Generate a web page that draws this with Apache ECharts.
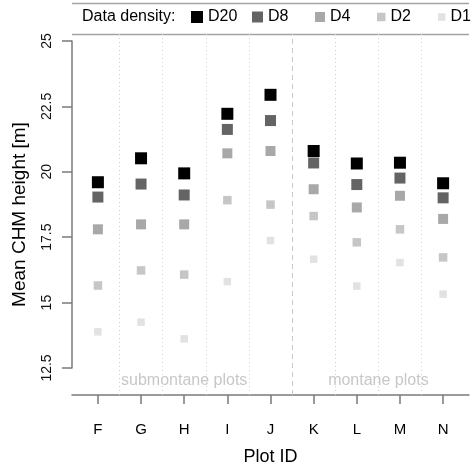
<!DOCTYPE html>
<html><head><meta charset="utf-8">
<script src="https://cdn.jsdelivr.net/npm/echarts@6/dist/echarts.min.js"></script>
<style>html,body{margin:0;padding:0;background:#fff}#c{width:472px;height:471px}</style>
</head><body><div id="c"></div>
<script>
// ---- data ----
const plotIds = ['F','G','H','I','J','K','L','M','N'];
const densities = ['D20','D8','D4','D2','D1'];
const d20 = [19.57,20.49,19.91,22.20,22.93,20.77,20.29,20.32,19.53];
const d8  = [19.00,19.50,19.08,21.60,21.94,20.31,19.48,19.73,18.97];
const d4  = [17.76,17.95,17.95,20.68,20.77,19.30,18.60,19.05,18.16];
const d2  = [15.60,16.18,16.02,18.88,18.71,18.27,17.26,17.76,16.68];
const d1  = [13.82,14.19,13.55,15.75,17.33,16.61,15.58,16.48,15.27];
const yTicks = [12.5,15,17.5,20,22.5,25];
const groupNames = ['submontane plots','montane plots'];
const groupMembers = [['F','G','H','I','J'],['K','L','M','N']];

// ---- styles / layout ----
const FONT = '"Liberation Sans", Arial, Helvetica, sans-serif';
const colors = ['#000000','#646464','#a8a8a8','#c6c6c6','#e2e2e2'];
const sizes = [12,11,10,8.5,7.5];
const legendLeft = [191,252,315,377,438];
const values = [d20,d8,d4,d2,d1];

const axTop = 41, axBottomPx = 368;     // y-axis line extent (px)
const plotTop = 34, plotBottomPx = 397; // plotting region (px)
const pxPerUnit = (axBottomPx - axTop) / (yTicks[yTicks.length-1] - yTicks[0]);
const yMax = yTicks[yTicks.length-1] + (axTop - plotTop) / pxPerUnit;
const yMin = yTicks[0] - (plotBottomPx - axBottomPx) / pxPerUnit;
const xMin = 0.4, xMax = plotIds.length + 0.6;
const labelY = yTicks[0] - (383 - axBottomPx) / pxPerUnit;

const idx = id => plotIds.indexOf(id) + 1;

const sepData = [];
for (let i = 1; i < plotIds.length; i++) {
  const between = groupMembers[0].includes(plotIds[i-1]) && groupMembers[1].includes(plotIds[i]);
  sepData.push({
    xAxis: i + 0.5,
    lineStyle: between ? {type:[5,4], color:'#c8c8c8', width:1} : {type:[1,3], color:'#cfcfcf', width:1}
  });
}

const series = densities.map((d,k) => ({
  name: d, type: 'scatter', xAxisIndex: 0, yAxisIndex: 0,
  symbol: 'rect', symbolSize: sizes[k],
  itemStyle: {color: colors[k], opacity: 1},
  data: values[k].map((v,i) => [i+1, v]),
  silent: true
}));

series.unshift({
  name: 'sep', type: 'scatter', xAxisIndex: 0, yAxisIndex: 0, data: [], silent: true,
  markLine: {silent: true, symbol: 'none', label: {show: false}, data: sepData, animation: false}
});

series.push({
  name: 'groups', type: 'scatter', xAxisIndex: 0, yAxisIndex: 0, silent: true,
  symbolSize: 1, itemStyle: {color: 'rgba(0,0,0,0)'},
  data: groupNames.map((g,k) => {
    const ids = groupMembers[k].map(idx);
    return {name: g, value: [(Math.min(...ids)+Math.max(...ids))/2, labelY]};
  }),
  label: {show: true, position: 'inside', formatter: p => p.name, color: '#b9b9b9', fontSize: 16, fontFamily: FONT}
});

const option = {
  animation: false,
  backgroundColor: '#fff',
  textStyle: {fontFamily: FONT},
  title: {text: 'Data density:', left: 82, top: 9, padding: 0,
    textStyle: {fontSize: 16, fontWeight: 'normal', color: '#000', fontFamily: FONT}},
  legend: densities.map((d,k) => ({
    data: [d], left: legendLeft[k], top: 9, padding: 0,
    itemWidth: sizes[k], itemHeight: sizes[k], icon: 'rect', selectedMode: false,
    textStyle: {fontSize: 16, color: '#000', fontFamily: FONT}
  })),
  graphic: [
    {type: 'line', shape: {x1: 72, y1: 3.5, x2: 469, y2: 3.5}, style: {stroke: '#a3a3a3', lineWidth: 1.5}},
    {type: 'line', shape: {x1: 72, y1: 34.5, x2: 469, y2: 34.5}, style: {stroke: '#a3a3a3', lineWidth: 1.5}}
  ],
  grid: [
    {left: 72, right: 3, top: plotTop, bottom: 471 - plotBottomPx},
    {left: 72, right: 3, top: axTop, bottom: 471 - axBottomPx}
  ],
  xAxis: [
    {type: 'value', gridIndex: 0, min: xMin, max: xMax,
      name: 'Plot ID', nameLocation: 'middle', nameGap: 53,
      nameTextStyle: {fontSize: 18, color: '#000', fontFamily: FONT},
      axisLine: {show: true, lineStyle: {color: '#7a7a7a', width: 1.5}},
      axisTick: {show: true, length: 9, customValues: plotIds.map((_,i)=>i+1), lineStyle: {color: '#7a7a7a', width: 1.5}},
      axisLabel: {show: true, customValues: plotIds.map((_,i)=>i+1), formatter: v => plotIds[Math.round(v)-1] || '',
        margin: 27, fontSize: 15, color: '#000', fontFamily: FONT},
      splitLine: {show: false}},
    {type: 'value', gridIndex: 1, min: xMin, max: xMax, show: false}
  ],
  yAxis: [
    {type: 'value', gridIndex: 0, min: yMin, max: yMax,
      name: 'Mean CHM height [m]', nameLocation: 'middle', nameGap: 43,
      nameTextStyle: {fontSize: 19, color: '#000', fontFamily: FONT},
      axisLine: {show: false}, axisTick: {show: false}, axisLabel: {show: false}, splitLine: {show: false}},
    {type: 'value', gridIndex: 1, min: yTicks[0], max: yTicks[yTicks.length-1], interval: 2.5,
      axisLine: {show: true, lineStyle: {color: '#7a7a7a', width: 1.5}},
      axisTick: {show: true, length: 10, lineStyle: {color: '#7a7a7a', width: 1.5}},
      axisLabel: {show: true, rotate: 90, margin: 18, fontSize: 14, color: '#111', fontFamily: FONT,
        formatter: v => String(v)},
      splitLine: {show: false}}
  ],
  series: series
};

const chart = echarts.init(document.getElementById('c'), null, {renderer: 'canvas'});
chart.setOption(option);
</script>
</body></html>
